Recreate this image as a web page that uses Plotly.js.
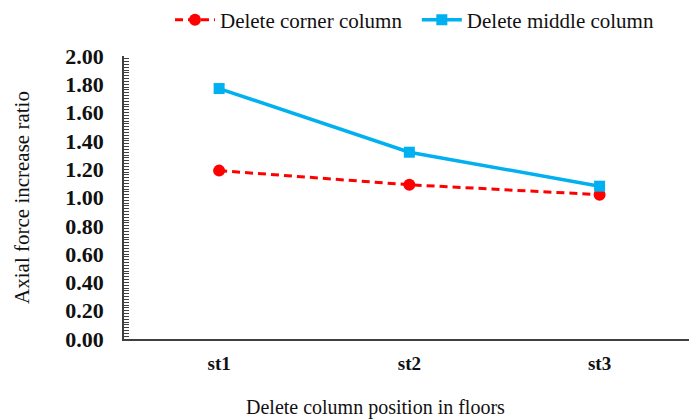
<!DOCTYPE html>
<html>
<head>
<meta charset="utf-8">
<script src="https://cdn.plot.ly/plotly-3.0.1.min.js"></script>
<style>html,body{margin:0;padding:0;background:#fff;}#chart{width:689px;height:419px;}</style>
</head>
<body>
<div id="chart"></div>
<script>
const categories = ["st1", "st2", "st3"];
const cornerValues = [1.19, 1.09, 1.02];
const middleValues = [1.77, 1.32, 1.08];
const seriesNames = ["Delete corner column", "Delete middle column"];
const yTickVals = [0, 0.2, 0.4, 0.6, 0.8, 1.0, 1.2, 1.4, 1.6, 1.8, 2.0];
const yTickText = ["0.00","0.20","0.40","0.60","0.80","1.00","1.20","1.40","1.60","1.80","2.00"];

const serif = "Liberation Serif";

const traces = [
  {
    x: categories, y: cornerValues, name: seriesNames[0], legend: "legend",
    type: "scatter", mode: "lines+markers",
    line: {color: "#FF0000", width: 3, dash: "8px,5px"},
    marker: {symbol: "circle", size: 12, color: "#FF0000"}
  },
  {
    x: categories, y: middleValues, name: seriesNames[1], legend: "legend2",
    type: "scatter", mode: "lines+markers",
    line: {color: "#00B0F0", width: 3.5},
    marker: {symbol: "square", size: 11, color: "#00B0F0"}
  }
];

const legendBase = {
  orientation: "h", xref: "container", yref: "container",
  y: 0.952, xanchor: "left", yanchor: "middle",
  font: {family: serif, size: 21, color: "#111"},
  itemwidth: 40, bgcolor: "rgba(0,0,0,0)"
};

const layout = {
  width: 689, height: 419,
  margin: {l: 124, r: 0, t: 56, b: 80},
  paper_bgcolor: "#fff", plot_bgcolor: "#fff",
  font: {family: serif},
  showlegend: true,
  legend: Object.assign({}, legendBase, {x: 0.2467}),
  legend2: Object.assign({}, legendBase, {x: 0.605}),
  xaxis: {
    type: "category", range: [-0.5, 2.47],
    showline: true, linecolor: "#404040", linewidth: 2,
    showgrid: false, zeroline: false, ticks: "",
    ticklabelstandoff: 6,
    tickfont: {family: serif, size: 19, color: "#111", weight: "bold"}
  },
  yaxis: {
    range: [0, 2.0],
    showline: true, linecolor: "#404040", linewidth: 1.5,
    showgrid: false, zeroline: false,
    tickmode: "array", tickvals: yTickVals, ticktext: yTickText,
    ticks: "inside", ticklen: 5, tickcolor: "#404040", tickwidth: 1,
    minor: {dtick: 0.02, ticks: "inside", ticklen: 5, tickcolor: "#404040", tickwidth: 1, showgrid: false},
    ticklabelstandoff: 14,
    tickfont: {family: serif, size: 22, color: "#111", weight: "bold"},
    title: {text: "Axial force increase ratio", font: {family: serif, size: 21, color: "#111"}, standoff: 30}
  },
  annotations: [
    {
      text: "Delete column position in floors", showarrow: false,
      xref: "paper", yref: "paper", x: 0.446, y: 0, yshift: -68,
      xanchor: "center", yanchor: "middle",
      font: {family: serif, size: 20, color: "#111"}
    }
  ]
};

Plotly.newPlot("chart", traces, layout, {displayModeBar: false, responsive: false});
</script>
</body>
</html>
